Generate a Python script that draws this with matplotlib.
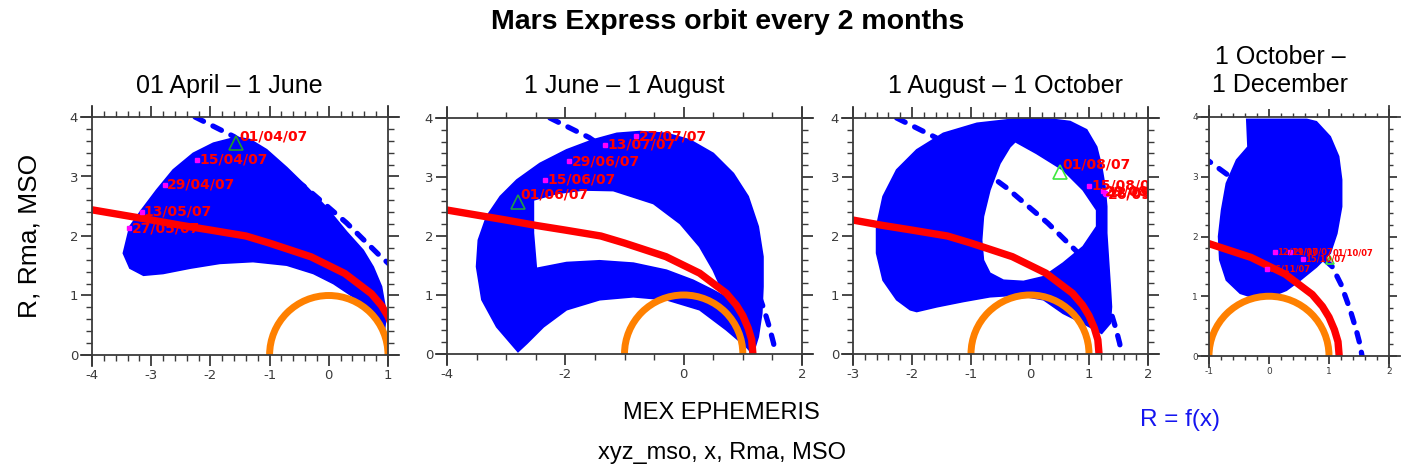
import numpy as np
import matplotlib
matplotlib.use("Agg")
import matplotlib.pyplot as plt
from matplotlib.path import Path
from matplotlib.patches import PathPatch, Arc
from matplotlib.ticker import MultipleLocator
from matplotlib.lines import Line2D

plt.rcParams["axes.unicode_minus"] = False

# ---------------- model boundaries (x, R) in Mars radii ----------------
mpb_x = [-4.0, -3.0, -2.5, -2.0, -1.4, -1.0, -0.3, 0.27, 0.72, 0.89, 1.0, 1.09, 1.15, 1.17]
mpb_r = [2.44, 2.27, 2.18, 2.10, 2.00, 1.88, 1.65, 1.37, 1.03, 0.83, 0.65, 0.44, 0.24, 0.0]

bs_x = [-2.26, -1.6, -1.0, -0.4, 0.3, 0.85, 1.05, 1.2, 1.35, 1.45, 1.52, 1.55]
bs_r = [4.0, 3.67, 3.26, 2.82, 2.22, 1.68, 1.5, 1.2, 0.78, 0.45, 0.18, 0.0]

mars_radius = 1.0

# ---------------- panel titles ----------------
panel_titles = ["01 April \u2013 1 June", "1 June \u2013 1 August",
                "1 August \u2013 1 October", "1 October \u2013\n1 December"]

# ---------------- orbit coverage envelopes (x, R) ----------------
p1_outer_x = [-3.47, -3.36, -3.16, -2.91, -2.63, -2.29, -1.95, -1.56, -1.33, -1.05, -0.71,
              -0.37, -0.04, 0.30, 0.58, 0.75, 0.89, 0.95, 0.96, 0.94,
              0.70, 0.41, 0.08, -0.26, -0.71, -1.28, -1.84, -2.34, -2.80, -3.13, -3.36]
p1_outer_r = [1.71, 2.16, 2.44, 2.77, 3.11, 3.39, 3.56, 3.66, 3.62, 3.45, 3.15,
              2.82, 2.48, 2.07, 1.76, 1.48, 1.15, 0.81, 0.59, 0.42,
              0.70, 0.98, 1.20, 1.37, 1.51, 1.57, 1.54, 1.46, 1.37, 1.34, 1.46]
p1_hole_x = []
p1_hole_r = []

p2_outer_x = [-2.80, -3.16, -3.41, -3.50, -3.47, -3.33, -3.10, -2.82, -2.43, -1.98, -1.53,
              -1.13, -0.74, -0.29, 0.10, 0.50, 0.84, 1.09, 1.26, 1.34, 1.34, 1.32, 1.26, 1.17,
              1.06, 0.72, 0.27, -0.29, -0.85, -1.42, -1.98, -2.37, -2.65]
p2_outer_r = [0.04, 0.46, 0.92, 1.48, 1.93, 2.33, 2.67, 2.95, 3.23, 3.46, 3.63,
              3.74, 3.77, 3.74, 3.63, 3.40, 3.06, 2.67, 2.16, 1.65, 1.14, 0.69, 0.29, 0.0,
              0.12, 0.41, 0.75, 0.92, 0.97, 0.92, 0.75, 0.46, 0.18]
p2_hole_x = [-2.54, -2.15, -1.70, -1.19, -0.51, -0.06, 0.27, 0.50, 0.70,
             0.50, 0.16, -0.29, -0.85, -1.42, -1.98, -2.49, -2.54]
p2_hole_r = [2.61, 2.72, 2.78, 2.77, 2.55, 2.21, 1.82, 1.42, 0.97,
             1.08, 1.25, 1.42, 1.54, 1.58, 1.55, 1.45, 2.05]

p3_outer_x = [-2.03, -2.26, -2.49, -2.60, -2.60, -2.49, -2.26, -1.92, -1.47, -0.90, -0.28,
              0.28, 0.68, 0.96, 1.13, 1.215, 1.27, 1.30, 1.30, 1.33, 1.36, 1.38, 1.36, 1.215,
              0.90, 0.56, 0.23, -0.23, -0.68, -1.13, -1.58, -1.92]
p3_outer_r = [0.75, 0.92, 1.25, 1.71, 2.16, 2.67, 3.12, 3.46, 3.74, 3.91, 3.98,
              3.99, 3.94, 3.80, 3.51, 3.17, 2.84, 2.50, 2.05, 1.59, 1.14, 0.80, 0.52, 0.35,
              0.52, 0.69, 0.92, 1.00, 0.97, 0.89, 0.80, 0.72]
p3_hole_x = [-0.25, 0.11, 0.56, 0.90, 1.13, 1.13, 0.90, 0.56, 0.23, -0.11, -0.45, -0.68,
             -0.79, -0.82, -0.79, -0.68, -0.51, -0.34]
p3_hole_r = [3.60, 3.40, 3.12, 2.78, 2.44, 2.16, 1.82, 1.54, 1.31, 1.23, 1.25, 1.37,
             1.59, 1.93, 2.33, 2.78, 3.23, 3.51]

p4_outer_x = [-0.37, 0.63, 0.79, 1.02, 1.16, 1.21, 1.21, 1.13, 1.02, 0.79, 0.52, 0.29,
              0.02, -0.26, -0.48, -0.71, -0.82, -0.84, -0.79, -0.71, -0.54, -0.35]
p4_outer_r = [3.96, 3.96, 3.92, 3.67, 3.34, 2.95, 2.50, 2.05, 1.72, 1.49, 1.27, 1.10,
              0.99, 0.98, 1.05, 1.27, 1.61, 2.00, 2.44, 2.89, 3.28, 3.50]
p4_hole_x = []
p4_hole_r = []

# ---------------- orbit start (triangle) and fortnightly positions ----------------
start_dates = ["01/04/07", "01/06/07", "01/08/07", "01/10/07"]
start_x = [-1.56, -2.80, 0.51, 1.02]
start_r = [3.56, 2.58, 3.09, 1.61]

p1_dates = ["15/04/07", "29/04/07", "13/05/07", "27/05/07"]
p1_dx = [-2.22, -2.77, -3.16, -3.37]
p1_dr = [3.28, 2.86, 2.41, 2.13]

p2_dates = ["15/06/07", "29/06/07", "13/07/07", "27/07/07"]
p2_dx = [-2.34, -1.93, -1.33, -0.80]
p2_dr = [2.95, 3.27, 3.55, 3.69]

p3_dates = ["15/08/07", "29/08/07", "12/09/07", "26/09/07"]
p3_dx = [1.00, 1.24, 1.27, 1.29]
p3_dr = [2.85, 2.76, 2.73, 2.71]

p4_dates = ["15/10/07", "29/10/07", "12/11/07", "26/11/07"]
p4_dx = [0.57, 0.35, 0.10, -0.03]
p4_dr = [1.63, 1.74, 1.74, 1.45]

# ---------------- axis ranges ----------------
x_limits = [(-4, 1), (-4, 2), (-3, 2), (-1, 2)]
x_major = [1, 2, 1, 1]
x_minor = [0.2, 0.5, 0.2, 0.2]

# ---------------- layout (figure pixels) ----------------
W, H = 1406, 473
boxes_px = [(92, 117, 388, 355), (447, 118, 802, 354), (853, 118, 1148, 354), (1209, 117, 1389, 356)]
title_pos_px = [(229, 86), (624, 86), (1006, 86), (1280, 71)]

BLUE = "#0000ff"
RED = "#ff0000"
ORANGE = "#ff8000"
MAGENTA = "#ff00ff"
AXCOL = "#3a3a3a"

fig = plt.figure(figsize=(W / 100, H / 100), dpi=100)


def oriented(xs, ys, ccw):
    pts = np.column_stack([xs, ys]).astype(float)
    a = np.sum(pts[:, 0] * np.roll(pts[:, 1], -1) - np.roll(pts[:, 0], -1) * pts[:, 1])
    if (a > 0) != ccw:
        pts = pts[::-1]
    return pts


def coverage_patch(ox, oy, hx, hy):
    verts, codes = [], []
    rings = [oriented(ox, oy, True)]
    if len(hx):
        rings.append(oriented(hx, hy, False))
    for ring in rings:
        verts.extend(ring.tolist())
        verts.append(ring[0].tolist())
        codes.extend([Path.MOVETO] + [Path.LINETO] * (len(ring) - 1) + [Path.CLOSEPOLY])
    return PathPatch(Path(verts, codes), facecolor=BLUE, edgecolor=BLUE, lw=1.2, zorder=2)


def frame(ax, wpx, hpx, ext=11):
    for s in ax.spines.values():
        s.set_visible(False)
    ex, ey = ext / wpx, ext / hpx
    segs = [((-ex, 1 + ex), (0, 0)), ((-ex, 1 + ex), (1, 1)),
            ((0, 0), (-ey, 1 + ey)), ((1, 1), (-ey, 1 + ey))]
    for xs, ys in segs:
        ax.add_line(Line2D(xs, ys, transform=ax.transAxes, color=AXCOL, lw=1.3,
                           clip_on=False, zorder=10))


outers = [(p1_outer_x, p1_outer_r), (p2_outer_x, p2_outer_r), (p3_outer_x, p3_outer_r), (p4_outer_x, p4_outer_r)]
holes = [(p1_hole_x, p1_hole_r), (p2_hole_x, p2_hole_r), (p3_hole_x, p3_hole_r), (p4_hole_x, p4_hole_r)]
marks = [(p1_dates, p1_dx, p1_dr), (p2_dates, p2_dx, p2_dr), (p3_dates, p3_dx, p3_dr), (p4_dates, p4_dx, p4_dr)]
tri_colors = ["#1f9a2a", "#1f9a4a", "#3ee83e", "#3ee83e"]

for i in range(4):
    l, t, r, b = boxes_px[i]
    ax = fig.add_axes([l / W, 1 - b / H, (r - l) / W, (b - t) / H])
    small = i == 3
    ax.set_xlim(*x_limits[i])
    ax.set_ylim(0, 4)

    ax.add_patch(coverage_patch(*outers[i], *holes[i]))
    ax.add_patch(Arc((0, 0), 2 * mars_radius, 2 * mars_radius, theta1=0, theta2=180,
                     color=ORANGE, lw=5, zorder=3))
    ax.plot(mpb_x, mpb_r, color=RED, lw=5.3, solid_capstyle="round", zorder=4)
    ax.plot(bs_x, bs_r, color=BLUE, lw=3.8, linestyle=(0, (1.8, 2.0)),
            dash_capstyle="round", zorder=4)

    fs = 6 if small else 10
    dates, dx, dr = marks[i]
    ax.plot(dx, dr, "s", color=MAGENTA, ms=2.2 if small else 3, zorder=5)
    for d, x, y in zip(dates, dx, dr):
        ax.annotate(d, (x, y), xytext=(1.5, 0), textcoords="offset points", color=RED,
                    fontsize=fs, fontweight="bold", va="center", ha="left",
                    annotation_clip=False, clip_on=True, zorder=6)
    ax.plot(start_x[i], start_r[i], "^", mfc="none", mec=tri_colors[i],
            ms=6 if small else 10, mew=1.2, zorder=5)
    ax.annotate(start_dates[i], (start_x[i], start_r[i]), xytext=(2, 5),
                textcoords="offset points", color=RED, fontsize=fs, fontweight="bold",
                va="center", ha="left", clip_on=True, zorder=6)

    ax.xaxis.set_major_locator(MultipleLocator(x_major[i]))
    ax.xaxis.set_minor_locator(MultipleLocator(x_minor[i]))
    ax.yaxis.set_major_locator(MultipleLocator(1))
    ax.yaxis.set_minor_locator(MultipleLocator(0.2))
    ax.tick_params(which="both", direction="out", top=True, right=True,
                   labeltop=False, labelright=False, colors=AXCOL)
    ax.tick_params(which="major", length=6 if small else 8, width=1.3,
                   labelsize=6.5 if small else 9.5, pad=2)
    ax.tick_params(which="minor", length=3 if small else 4, width=1.0)
    frame(ax, r - l, b - t)

    tx, ty = title_pos_px[i]
    fig.text(tx / W, 1 - ty / H, panel_titles[i], ha="center", va="center",
             multialignment="center", fontsize=18, family="Liberation Sans",
             linespacing=1.2)

fig.text(728 / W, 1 - 22 / H, "Mars Express orbit every 2 months", ha="center", va="center",
         fontsize=20.5, fontweight="bold", family="Liberation Sans")
fig.text(30 / W, 1 - 236 / H, "R, Rma, MSO", rotation=90, ha="center", va="center",
         fontsize=19, family="Liberation Sans")
fig.text(721 / W, 1 - 413 / H, "MEX EPHEMERIS", ha="center", va="center",
         fontsize=17, family="Liberation Sans")
fig.text(722 / W, 1 - 453 / H, "xyz_mso, x, Rma, MSO", ha="center", va="center",
         fontsize=17, family="Liberation Sans")
fig.text(1180 / W, 1 - 420 / H, "R = f(x)", ha="center", va="center",
         fontsize=17.5, family="Liberation Sans", color="#1515f0")

fig.savefig("out.png", dpi=100)
